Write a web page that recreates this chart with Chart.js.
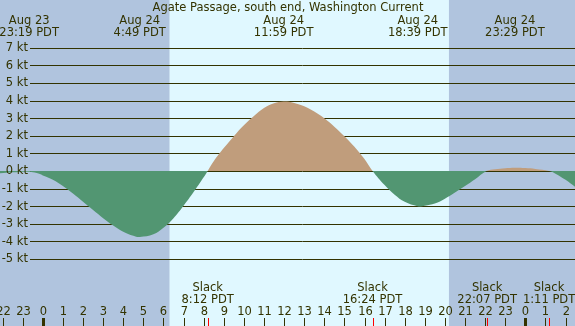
<!DOCTYPE html>
<html>
<head>
<meta charset="utf-8">
<script src="https://cdn.jsdelivr.net/npm/chart.js@4"></script>
<style>
  body { margin: 0; background: #b0c4de; }
  #wrap { width: 575px; height: 326px; }
</style>
</head>
<body>
<div id="wrap"><canvas id="tideChart" width="575" height="326"></canvas></div>
<script>
// hours after midnight Aug 24 (PDT), current in knots
const hours = [-2.14, -1.5, -0.68, -0.3, 0, 0.5, 1, 1.5, 2, 2.5, 3, 3.5, 4, 4.5, 4.82, 5.5, 6, 6.5, 7, 7.5, 8, 8.2,
  8.5, 9, 9.5, 10, 10.5, 11, 11.5, 11.98, 12.5, 13, 13.5, 14, 14.5, 15, 15.5, 16, 16.4,
  17, 17.5, 18, 18.65, 19, 19.5, 20, 20.5, 21, 21.5, 22.07,
  22.5, 23, 23.48, 24, 24.5, 25.18, 25.5, 26, 26.47];
const knots = [-0.13, -0.07, -0.04, -0.12, -0.25, -0.5, -0.85, -1.28, -1.75, -2.22, -2.68, -3.1, -3.45, -3.68, -3.75, -3.6, -3.22, -2.68, -1.98, -1.2, -0.36, 0,
  0.55, 1.3, 1.98, 2.6, 3.13, 3.58, 3.85, 3.95, 3.87, 3.68, 3.38, 3.0, 2.52, 1.98, 1.38, 0.68, 0,
  -0.8, -1.35, -1.75, -2.0, -1.97, -1.85, -1.57, -1.22, -0.85, -0.47, 0,
  0.1, 0.16, 0.19, 0.17, 0.12, 0, -0.15, -0.5, -0.9];

// max / min events along the top
const eventHours = [-0.68, 4.82, 11.98, 18.65, 23.48];
const eventDates = ["Aug 23", "Aug 24", "Aug 24", "Aug 24", "Aug 24"];
const eventTimes = ["23:19 PDT", "4:49 PDT", "11:59 PDT", "18:39 PDT", "23:29 PDT"];

// slack water along the bottom
const slackHours = [8.2, 16.4, 22.1, 25.18];
const slackTimes = ["8:12 PDT", "16:24 PDT", "22:07 PDT", "1:11 PDT"];

// daylight
const sunrise = 6.3;
const sunset = 20.2;

const kLevels = [7, 6, 5, 4, 3, 2, 1, 0, -1, -2, -3, -4, -5];
const hourTicks = [];
for (let h = -2; h <= 26; h++) hourTicks.push(h);

const title = "Agate Passage, south end, Washington Current";

const ink = "#333300";
const font = "11.5px 'DejaVu Sans'";

const tidePlugin = {
  id: "tide",
  beforeDraw(chart) {
    const c = chart.ctx, x = chart.scales.x;
    const w = chart.width, h = chart.height;
    c.save();
    c.fillStyle = "#b0c4de";
    c.fillRect(0, 0, w, h);
    const x1 = x.getPixelForValue(sunrise), x2 = x.getPixelForValue(sunset);
    c.fillStyle = "#e0f8ff";
    c.fillRect(x1, 0, x2 - x1, h);
    c.restore();
  },
  beforeDatasetsDraw(chart) {
    const c = chart.ctx, y = chart.scales.y;
    c.save();
    c.strokeStyle = ink;
    c.lineWidth = 1;
    kLevels.forEach(k => {
      const py = Math.round(y.getPixelForValue(k)) + 0.5;
      c.beginPath();
      c.moveTo(30, py);
      c.lineTo(chart.width, py);
      c.stroke();
    });
    c.restore();
  },
  afterDatasetsDraw(chart) {
    const c = chart.ctx, x = chart.scales.x, y = chart.scales.y;
    c.save();
    c.font = font;
    c.fillStyle = ink;

    // y labels
    c.textAlign = "right";
    c.textBaseline = "middle";
    kLevels.forEach(k => {
      c.fillText(k + " kt", 28, y.getPixelForValue(k) + 0.5);
    });

    // title + events
    c.textAlign = "center";
    c.textBaseline = "alphabetic";
    c.fillText(title, 288, 11);
    eventHours.forEach((eh, i) => {
      const px = x.getPixelForValue(eh);
      c.fillText(eventDates[i], px, 24);
      c.fillText(eventTimes[i], px, 36);
    });

    // slack labels
    slackHours.forEach((sh, i) => {
      const px = x.getPixelForValue(sh);
      c.fillText("Slack", px, 291);
      c.fillText(slackTimes[i], px, 303);
    });

    // hour labels and ticks
    hourTicks.forEach(hr => {
      const px = Math.round(x.getPixelForValue(hr));
      const lbl = ((hr % 24) + 24) % 24;
      c.fillText(String(lbl), px + 0.5, 315);
      if (lbl === 0) {
        c.fillRect(px - 1, 318, 3, 8);
      } else {
        c.fillRect(px, 318, 1, 8);
      }
    });
    c.fillStyle = "#ff0000";
    slackHours.forEach(sh => {
      const px = Math.round(x.getPixelForValue(sh));
      c.fillRect(px, 318, 1, 8);
    });
    c.restore();
  }
};

const ctx = document.getElementById("tideChart");

const tideChart = new Chart(ctx, {
  type: "line",
  data: {
    datasets: [
      {
        data: hours.map((h, i) => ({ x: h, y: knots[i] })),
        borderWidth: 0,
        borderColor: "rgba(0,0,0,0)",
        pointRadius: 0,
        tension: 0.4,
        fill: {
          target: { value: 0 },
          above: "#c09d7c",
          below: "#529672",
        },
      },
    ],
  },
  options: {
    responsive: false,
    animation: false,
    events: [],
    layout: { padding: 0 },
    scales: {
      x: { type: "linear", min: -2.13, max: 26.47, display: false },
      y: { min: -8.807, max: 9.716, display: false },
    },
    plugins: {
      legend: { display: false },
      tooltip: { enabled: false },
    },
  },
  plugins: [tidePlugin],
});
</script>
</body>
</html>
